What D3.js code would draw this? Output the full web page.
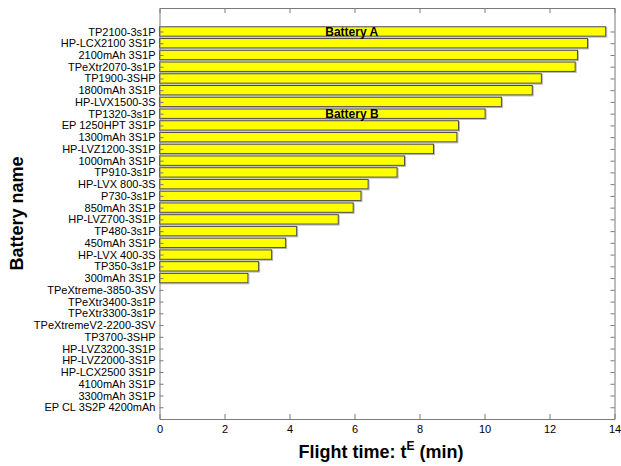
<!DOCTYPE html>
<html>
<head>
<meta charset="utf-8">
<script src="https://cdn.jsdelivr.net/npm/d3@7"></script>
<style>
  body { margin: 0; background: #fff; }
  #chart { width: 621px; height: 466px; }
  text { font-family: "Liberation Sans", Arial, Helvetica, sans-serif; }
</style>
</head>
<body>
<div id="chart"></div>
<script>
// battery names, top to bottom
const batteries = [
  "TP2100-3s1P", "HP-LCX2100 3S1P", "2100mAh 3S1P", "TPeXtr2070-3s1P",
  "TP1900-3SHP", "1800mAh 3S1P", "HP-LVX1500-3S", "TP1320-3s1P",
  "EP 1250HPT 3S1P", "1300mAh 3S1P", "HP-LVZ1200-3S1P", "1000mAh 3S1P",
  "TP910-3s1P", "HP-LVX 800-3S", "P730-3s1P", "850mAh 3S1P",
  "HP-LVZ700-3S1P", "TP480-3s1P", "450mAh 3S1P", "HP-LVX 400-3S",
  "TP350-3s1P", "300mAh 3S1P", "TPeXtreme-3850-3SV", "TPeXtr3400-3s1P",
  "TPeXtr3300-3s1P", "TPeXtremeV2-2200-3SV", "TP3700-3SHP", "HP-LVZ3200-3S1P",
  "HP-LVZ2000-3S1P", "HP-LCX2500 3S1P", "4100mAh 3S1P", "3300mAh 3S1P",
  "EP CL 3S2P 4200mAh"
];
// flight time in minutes (null = no value)
const flightTime = [
  13.73, 13.17, 12.86, 12.79, 11.75, 11.47, 10.52, 10.02,
  9.2, 9.15, 8.43, 7.54, 7.31, 6.42, 6.2, 5.96,
  5.5, 4.22, 3.88, 3.45, 3.05, 2.72,
  null, null, null, null, null, null, null, null, null, null, null
];
const xTicks = [0, 2, 4, 6, 8, 10, 12, 14];
const notes = [
  { label: "Battery A", battery: "TP2100-3s1P", at: 5.1 },
  { label: "Battery B", battery: "TP1320-3s1P", at: 5.1 }
];

const div = d3.select("#chart");
const width = 621, height = 466;
const margin = { left: 159.5, right: 6.5, top: 8, bottom: 47 };
const svg = div.append("svg").attr("width", width).attr("height", height);

const n = batteries.length;
// position: first battery at n, last at 1 (ylim 0..n+2)
const pos = (i) => n - i;
const x = d3.scaleLinear().domain([0, 14]).range([margin.left, width - margin.right]);
const y = d3.scaleLinear().domain([0, n + 2]).range([height - margin.bottom, margin.top]);
const barH = y(0) - y(0.8);

const rows = batteries.map((b, i) => ({ name: b, v: flightTime[i], p: pos(i) }));

// bars
svg.append("g").selectAll("rect.shadow")
  .data(rows.filter(d => d.v != null))
  .join("rect")
  .attr("x", x(0) + 1)
  .attr("y", d => y(d.p) - barH / 2 + 1)
  .attr("width", d => x(d.v) - x(0))
  .attr("height", barH)
  .attr("fill", "none")
  .attr("stroke", "#b5b5b5")
  .attr("stroke-width", 1);
svg.append("g").selectAll("rect.bar")
  .data(rows.filter(d => d.v != null))
  .join("rect")
  .attr("x", x(0))
  .attr("y", d => y(d.p) - barH / 2)
  .attr("width", d => x(d.v) - x(0))
  .attr("height", barH)
  .attr("fill", "#ffff00")
  .attr("stroke", "#4a4a4a")
  .attr("stroke-width", 1);

// annotations
svg.append("g").selectAll("text")
  .data(notes)
  .join("text")
  .attr("x", d => x(d.at))
  .attr("y", d => y(pos(batteries.indexOf(d.battery))))
  .attr("dy", "0.35em")
  .attr("font-size", 12)
  .attr("font-weight", "bold")
  .text(d => d.label);

// axes
const axisColor = "#7a7a7a";
const style = (g, labels) => {
  g.select(".domain").attr("stroke", axisColor);
  g.selectAll(".tick line").attr("stroke", axisColor);
  g.selectAll(".tick text").attr("fill", "#000").attr("font-size", 11)
    .attr("font-family", "'Liberation Sans', Arial, Helvetica, sans-serif");
  if (!labels) g.selectAll(".tick text").remove();
};
const yVals = rows.map(d => d.p);
const yName = (p) => batteries[n - p];

svg.append("g")
  .attr("transform", `translate(0,${y(0)})`)
  .call(d3.axisBottom(x).tickValues(xTicks).tickSize(-5).tickSizeOuter(0).tickPadding(6))
  .call(g => style(g, true));
svg.append("g")
  .attr("transform", `translate(0,${y(n + 2)})`)
  .call(d3.axisTop(x).tickValues(xTicks).tickSize(-5).tickSizeOuter(0))
  .call(g => style(g, false));
svg.append("g")
  .attr("transform", `translate(${x(0)},0)`)
  .call(d3.axisLeft(y).tickValues(yVals).tickFormat(yName).tickSize(-4).tickSizeOuter(0).tickPadding(4))
  .call(g => style(g, true));
svg.append("g")
  .attr("transform", `translate(${x(14)},0)`)
  .call(d3.axisRight(y).tickValues(yVals).tickSize(-4).tickSizeOuter(0))
  .call(g => style(g, false));

// axis titles
const xt = svg.append("text")
  .attr("x", (x(0) + x(14)) / 2 - 6)
  .attr("y", 458)
  .attr("text-anchor", "middle")
  .attr("font-size", 18)
  .attr("font-weight", "bold");
xt.append("tspan").text("Flight time: t");
xt.append("tspan").attr("font-size", 12).attr("dy", -8).text("E");
xt.append("tspan").attr("dy", 8).text(" (min)");

svg.append("text")
  .attr("transform", `translate(23,${(y(0) + y(n + 2)) / 2}) rotate(-90)`)
  .attr("text-anchor", "middle")
  .attr("font-size", 18)
  .attr("font-weight", "bold")
  .text("Battery name");
</script>
</body>
</html>
